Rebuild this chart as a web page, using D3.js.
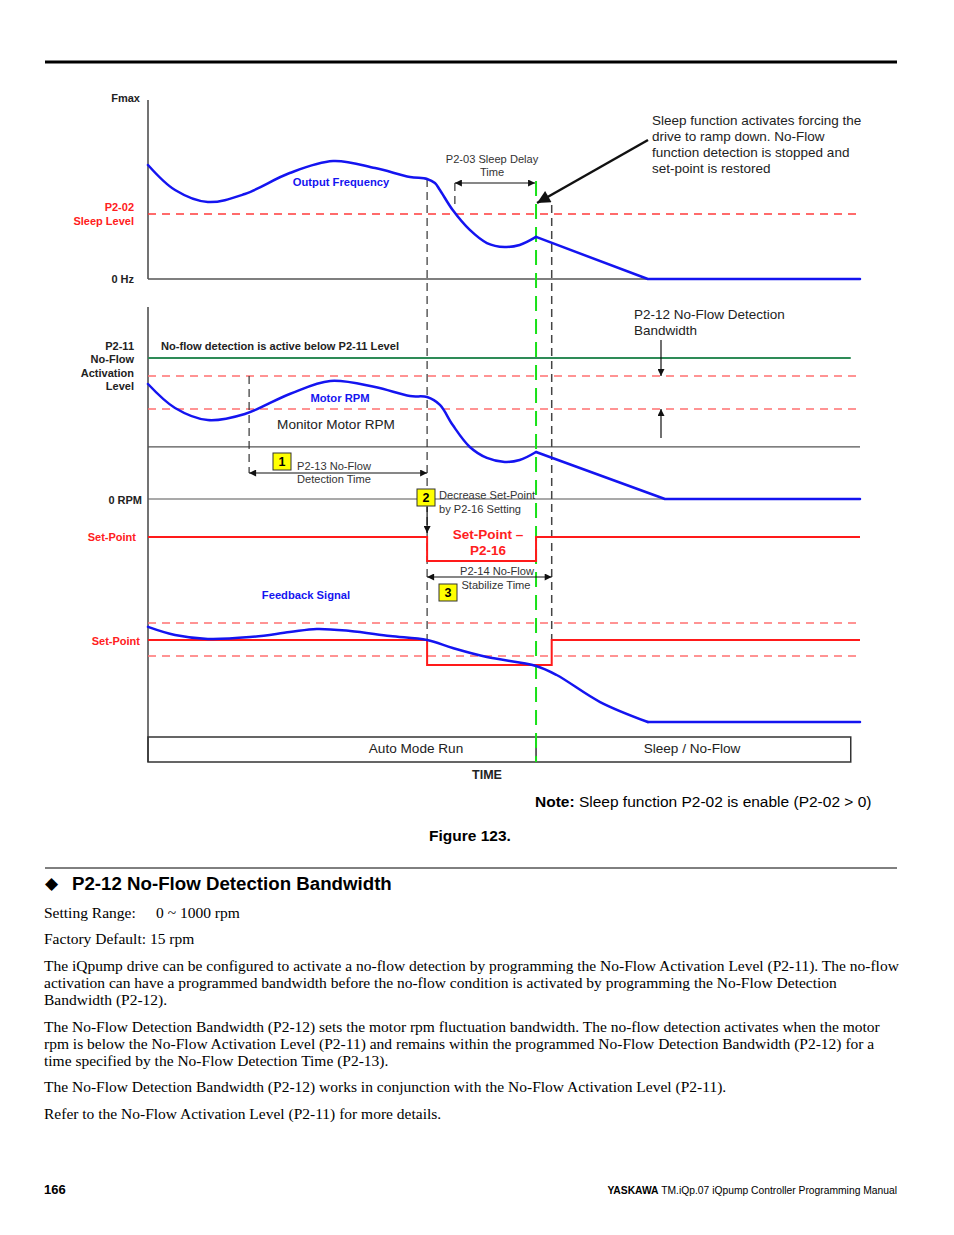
<!DOCTYPE html>
<meta charset="utf-8">
<style>
body { margin: 0; background: #fff; }
svg { display: block; }
text { font-family: "Liberation Sans", Arial, sans-serif; }
.serif { font-family: "Liberation Serif", "Times New Roman", serif; }
</style>
<div id="page"></div>
<script src="https://d3js.org/d3.v7.min.js"></script>
<script>

// time runs 0..100 across the chart (arbitrary units)
// event times: detection window start, no-flow detected, sleep delay start, sleep, set-point restored
var eventT = [14.2, 39.2, 43.1, 54.5, 56.7];
var freqZeroT = 70.2, rpmZeroT = 72.6, boxEndT = 98.7;

// output frequency, % of Fmax
var freqT = [0, 3.8, 8.4, 13.6, 19.9, 26, 31.9, 36.8, 39.2, 40.3, 41, 42.8, 45.2, 47.6, 50.1, 52.2, 54.5];
var freqV = [63.7, 49.7, 43.0, 47.5, 59.2, 65.9, 62.0, 57.0, 55.9, 53.6, 49.7, 38.5, 27.4, 20.1, 17.9, 19.0, 23.5];
var freqTailT = [54.5, 70.2, 100];
var freqTailV = [23.5, 0, 0];
var sleepLevel = 36.3;

// motor rpm, % of panel height
var rpmT = [0, 3.8, 8.4, 13.6, 19.9, 25.6, 31.9, 36.8, 39.2, 41, 42.8, 45.2, 47.6, 50.1, 52.2, 54.5];
var rpmV = [59.9, 47.4, 41.1, 44.3, 54.7, 61.5, 58.3, 53.6, 53.1, 49.0, 38.5, 27.1, 21.4, 19.3, 20.3, 24.5];
var rpmTailT = [54.5, 72.6, 100];
var rpmTailV = [24.5, 0, 0];
var activationLevel = 73.4;
var rpmBand = [64.1, 46.9];
var monitorFloor = 27.1;

// feedback signal and set-point traces
var fbT = [0, 3.8, 8.4, 14.3, 19.9, 23.7, 28.4, 34, 39.2, 42.8, 47.6, 54.5, 57.4, 63.5, 70.2];
var fbV = [51.4, 47.0, 44.9, 45.9, 48.6, 50.3, 49.2, 46.5, 44.3, 40.0, 35.1, 30.3, 25.4, 10.8, 0];
var fbTailT = [70.2, 100];
var fbTailV = [0, 0];
var spUpperT = [0, 39.2, 39.2, 54.5, 54.5, 100];
var spUpperV = [100, 100, 87, 87, 100, 100];
var spLowerT = [0, 39.2, 39.2, 56.7, 56.7, 100];
var spLowerV = [44.3, 44.3, 30.8, 30.8, 44.3, 44.3];
var fbBand = [53.5, 35.7];

var sleepNote = ["Sleep function activates forcing the", "drive to ramp down. No-Flow",
  "function detection is stopped and", "set-point is restored"];

var bodyLines = [
  ["The iQpump drive can be configured to activate a no-flow detection by programming the No-Flow Activation Level (P2-11). The no-flow", 966],
  ["activation can have a programmed bandwidth before the no-flow condition is activated by programming the No-Flow Detection", 983],
  ["Bandwidth (P2-12).", 1000],
  ["The No-Flow Detection Bandwidth (P2-12) sets the motor rpm fluctuation bandwidth. The no-flow detection activates when the motor", 1027],
  ["rpm is below the No-Flow Activation Level (P2-11) and remains within the programmed No-Flow Detection Bandwidth (P2-12) for a", 1044],
  ["time specified by the No-Flow Detection Time (P2-13).", 1061],
  ["The No-Flow Detection Bandwidth (P2-12) works in conjunction with the No-Flow Activation Level (P2-11).", 1087],
  ["Refer to the No-Flow Activation Level (P2-11) for more details.", 1114]
];

var svg = d3.select("#page").append("svg").attr("width", 954).attr("height", 1235);
svg.append("rect").attr("width", 954).attr("height", 1235).attr("fill", "#fff");

var x = d3.scaleLinear().domain([0, 100]).range([148, 860]);
var yF = d3.scaleLinear().domain([0, 100]).range([279, 100]);
var yR = d3.scaleLinear().domain([0, 100]).range([499, 307]);
var yB = d3.scaleLinear().domain([0, 100]).range([722, 537]);

var defs = svg.append("defs");
function marker(id, w, h) {
  defs.append("marker").attr("id", id)
      .attr("viewBox", "0 0 10 10").attr("refX", 10).attr("refY", 5)
      .attr("markerUnits", "userSpaceOnUse")
      .attr("markerWidth", w).attr("markerHeight", h)
      .attr("orient", "auto-start-reverse")
    .append("path").attr("d", "M0,0L10,5L0,10z").attr("fill", "#111");
}
marker("ah", 10, 7);
marker("big", 17, 13);

var g = svg.append("g");

function line(x1, y1, x2, y2, stroke, w, dash) {
  return g.append("line")
      .attr("x1", x1).attr("y1", y1).attr("x2", x2).attr("y2", y2)
      .attr("stroke", stroke).attr("stroke-width", w)
      .attr("stroke-dasharray", dash || null);
}
function trace(ts, vs, ys, curve) {
  return d3.line().curve(curve)(ts.map(function(t, i) { return [x(t), ys(vs[i])]; }));
}
function label(px, py, str, size, fill, weight, anchor) {
  return g.append("text").attr("x", px).attr("y", py).attr("dy", "0.35em")
      .attr("font-size", size).attr("fill", fill)
      .attr("font-weight", weight || "normal")
      .attr("text-anchor", anchor || "start")
      .text(str);
}

// page rules
line(45, 62, 897, 62, "#000", 3);
line(45, 868, 897, 868, "#000", 1);

// axes and base lines
line(x(0), yF(100), x(0), yF(0), "#444", 1.5);
line(x(0), yR(100), x(0), 762, "#444", 1.5);
line(x(0), yF(0), x(100), yF(0), "#555", 1.5);
line(x(0), yR(monitorFloor), x(100), yR(monitorFloor), "#555", 1.2);
line(x(0), yR(0), x(100), yR(0), "#555", 1.2);

// level lines
line(x(0), yF(sleepLevel), x(100), yF(sleepLevel), "#ff3b3b", 1.5, "8,6");
rpmBand.forEach(function(v) { line(x(0), yR(v), x(100), yR(v), "#ff7070", 1.5, "8,6"); });
fbBand.forEach(function(v) { line(x(0), yB(v), x(100), yB(v), "#ff7070", 1.5, "8,6"); });
line(x(0), yR(activationLevel), x(boxEndT), yR(activationLevel), "#2e8b57", 2);

// event markers (dashed verticals)
line(x(eventT[0]), yR(rpmBand[0]), x(eventT[0]), 473, "#333", 1.2, "8,5");
line(x(eventT[1]), yF(55.9), x(eventT[1]), yB(44.3), "#333", 1.2, "8,5");
line(x(eventT[2]), 183, x(eventT[2]), 205, "#333", 1.2, "8,5");
line(x(eventT[4]), 205, x(eventT[4]), yB(44.3), "#444", 1.5, "8,5");

// sleep / no-flow box
g.append("rect").attr("x", x(0)).attr("y", 737)
    .attr("width", x(boxEndT) - x(0)).attr("height", 25)
    .attr("fill", "none").attr("stroke", "#333").attr("stroke-width", 1.5);
line(x(eventT[3]), 737, x(eventT[3]), 762, "#333", 1.5);

// green sleep marker
line(x(eventT[3]), 181, x(eventT[3]), 762, "#18e018", 2, "15,8");

// set-point traces
g.append("path").attr("d", trace(spUpperT, spUpperV, yB, d3.curveLinear))
    .attr("fill", "none").attr("stroke", "#ff1a1a").attr("stroke-width", 2);
g.append("path").attr("d", trace(spLowerT, spLowerV, yB, d3.curveLinear))
    .attr("fill", "none").attr("stroke", "#ff1a1a").attr("stroke-width", 2);

// blue signals
var blue = "#1414f0";
[[freqT, freqV, freqTailT, freqTailV, yF], [rpmT, rpmV, rpmTailT, rpmTailV, yR], [fbT, fbV, fbTailT, fbTailV, yB]]
  .forEach(function(s) {
    g.append("path").attr("d", trace(s[0], s[1], s[4], d3.curveCatmullRom.alpha(0.5)))
        .attr("fill", "none").attr("stroke", blue).attr("stroke-width", 2.5)
        .attr("stroke-linecap", "round").attr("stroke-linejoin", "round");
    g.append("path").attr("d", trace(s[2], s[3], s[4], d3.curveLinear))
        .attr("fill", "none").attr("stroke", blue).attr("stroke-width", 2.5)
        .attr("stroke-linecap", "round").attr("stroke-linejoin", "round");
  });

// arrows
line(x(eventT[2]), 183, x(eventT[3]) - 1, 183, "#111", 1.2)
    .attr("marker-start", "url(#ah)").attr("marker-end", "url(#ah)");
line(x(eventT[0]), 473, x(eventT[1]), 473, "#111", 1.2)
    .attr("marker-start", "url(#ah)").attr("marker-end", "url(#ah)");
line(x(eventT[1]), 577, x(eventT[4]), 577, "#111", 1.2)
    .attr("marker-start", "url(#ah)").attr("marker-end", "url(#ah)");
line(x(eventT[1]), 507, x(eventT[1]), 533, "#111", 1.2).attr("marker-end", "url(#ah)");
line(648, 140, x(eventT[3]) + 1, 203, "#111", 2.5).attr("marker-end", "url(#big)");
line(661, 340, 661, yR(rpmBand[0]), "#111", 1.2).attr("marker-end", "url(#ah)");
line(661, 438, 661, yR(rpmBand[1]), "#111", 1.2).attr("marker-end", "url(#ah)");

// numbered boxes
[[273, 453, "1"], [417, 489, "2"], [439, 584, "3"]].forEach(function(b) {
  g.append("rect").attr("x", b[0]).attr("y", b[1]).attr("width", 18).attr("height", 17)
      .attr("fill", "#ffff00").attr("stroke", "#333").attr("stroke-width", 1);
  label(b[0] + 9, b[1] + 9, b[2], 12.5, "#000", "bold", "middle");
});

// left labels
var dark = "#222", red = "#ff2020";
label(140, 98, "Fmax", 11, dark, "bold", "end");
label(134, yF(sleepLevel) - 7, "P2-02", 11, red, "bold", "end");
label(134, yF(sleepLevel) + 7, "Sleep Level", 11, red, "bold", "end");
label(134, yF(0), "0 Hz", 11, dark, "bold", "end");
["P2-11", "No-Flow", "Activation", "Level"].forEach(function(s, i) {
  label(134, 346 + i * 13.5, s, 11, dark, "bold", "end");
});
label(142, yR(0) + 1, "0 RPM", 11, dark, "bold", "end");
label(136, yB(100), "Set-Point", 11, red, "bold", "end");
label(140, yB(44.3) + 1, "Set-Point", 11, red, "bold", "end");

// chart annotations
label(341, 182, "Output Frequency", 11.2, blue, "bold", "middle");
label(492, 159, "P2-03 Sleep Delay", 11.1, "#333", "normal", "middle");
label(492, 172, "Time", 11.1, "#333", "normal", "middle");
sleepNote.forEach(function(s, i) { label(652, 120 + i * 16, s, 13.5, dark); });
label(161, 346, "No-flow detection is active below P2-11 Level", 11.1, dark, "bold");
label(340, 398, "Motor RPM", 11.2, blue, "bold", "middle");
label(336, 424, "Monitor Motor RPM", 13.6, dark, "normal", "middle");
label(634, 314, "P2-12 No-Flow Detection", 13.5, dark);
label(634, 330, "Bandwidth", 13.5, dark);
label(297, 466, "P2-13 No-Flow", 11.1, "#333");
label(297, 479, "Detection Time", 11.1, "#333");
label(439, 495, "Decrease Set-Point", 11.1, "#333");
label(439, 509, "by P2-16 Setting", 11.1, "#333");
label(488, 534, "Set-Point \u2013", 13.5, red, "bold", "middle");
label(488, 550, "P2-16", 13.5, red, "bold", "middle");
label(497, 571, "P2-14 No-Flow", 11.1, "#333", "normal", "middle");
label(496, 585, "Stabilize Time", 11.1, "#333", "normal", "middle");
label(306, 595, "Feedback Signal", 11.2, blue, "bold", "middle");
label(416, 748, "Auto Mode Run", 13.6, dark, "normal", "middle");
label(692, 748, "Sleep / No-Flow", 13.6, dark, "normal", "middle");
label(487, 775, "TIME", 12.5, dark, "bold", "middle");

var note = g.append("text").attr("x", 535).attr("y", 802).attr("dy", "0.35em")
    .attr("font-size", 15.5).attr("fill", "#000");
note.append("tspan").attr("font-weight", "bold").text("Note:");
note.append("tspan").text(" Sleep function P2-02 is enable (P2-02 > 0)");
label(429, 836, "Figure 123.", 15.5, "#000", "bold");

// section text
label(45, 883, "\u25C6", 17, "#000");
label(72, 883, "P2-12 No-Flow Detection Bandwidth", 18.7, "#000", "bold");
label(44, 913, "Setting Range:", 15.5, "#000").attr("class", "serif");
label(156, 913, "0 ~ 1000 rpm", 15.5, "#000").attr("class", "serif");
label(44, 939, "Factory Default: 15 rpm", 15.5, "#000").attr("class", "serif");
bodyLines.forEach(function(l) { label(44, l[1], l[0], 15.5, "#000").attr("class", "serif"); });

// footer
label(44, 1189, "166", 13, "#000", "bold");
var foot = g.append("text").attr("x", 897).attr("y", 1190).attr("dy", "0.35em")
    .attr("text-anchor", "end").attr("font-size", 10.3)
    .style("font-family", "'Liberation Sans Narrow', 'Arial Narrow', sans-serif");
foot.append("tspan").attr("font-weight", "bold").text("YASKAWA");
foot.append("tspan").text(" TM.iQp.07 iQpump Controller Programming Manual");

</script>
